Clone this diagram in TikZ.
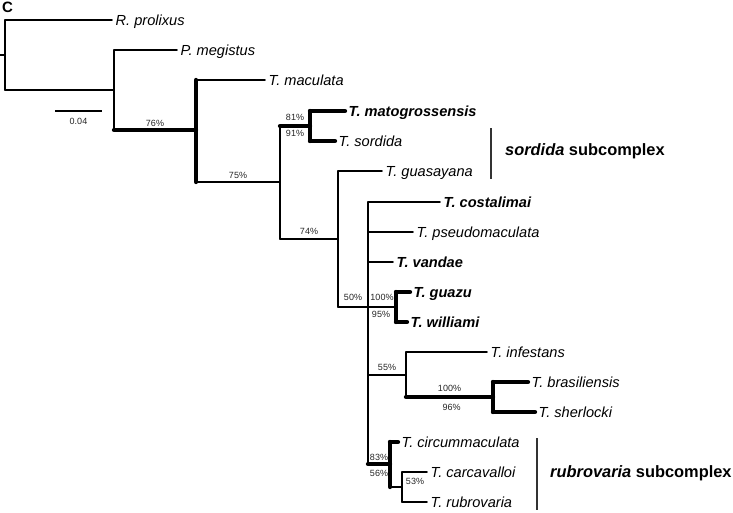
\documentclass[tikz,border=0pt]{standalone}
\usepackage{fontspec}
\setmainfont{Liberation Sans}
\begin{document}
\begin{tikzpicture}[x=1pt,y=-1pt,
  thinb/.style={line width=1.6pt, line cap=round},
  thickb/.style={line width=4.3pt, line cap=round},
  taxon/.style={anchor=west, inner xsep=3.5pt, inner ysep=0pt, text height=10.5pt, text depth=0pt,
    font=\fontsize{14.6}{16}\selectfont\itshape},
  btaxon/.style={taxon, font=\fontsize{14.6}{16}\selectfont\bfseries\itshape},
  pct/.style={font=\fontsize{9}{10}\selectfont, text=black!85, inner sep=0pt},
  grp/.style={anchor=west, inner sep=0pt, font=\fontsize{16.4}{18}\selectfont\bfseries},
  barline/.style={line width=1.3pt, black!80}]
\useasboundingbox (0,0) rectangle (733,512);
\node[anchor=north west, inner sep=0pt, font=\fontsize{15}{16}\selectfont\bfseries] (lab) at (2,2) {C};
% internal nodes
\coordinate (rt) at (0,55);
\coordinate (root) at (5,55);
\coordinate (nPM) at (114,90);
\coordinate (n76) at (196,130);
\coordinate (n75) at (280,182);
\coordinate (n81) at (310,126);
\coordinate (n74) at (338,239);
\coordinate (n50) at (368,307);
\coordinate (nGW) at (396,307);
\coordinate (n55) at (406,375);
\coordinate (nBS) at (493,397);
\coordinate (nRub) at (390,464);
\coordinate (n53) at (402,487);
% taxa
\node[taxon] (prol) at (112,20) {R. prolixus};
\node[taxon] (meg) at (177,50) {P. megistus};
\node[taxon] (mac) at (265,80) {T. maculata};
\node[btaxon] (mato) at (345,111) {T. matogrossensis};
\node[taxon] (sord) at (335,141) {T. sordida};
\node[taxon] (guas) at (382,171) {T. guasayana};
\node[btaxon] (cost) at (440,202) {T. costalimai};
\node[taxon] (pseu) at (413,232) {T. pseudomaculata};
\node[btaxon] (vand) at (393,262) {T. vandae};
\node[btaxon] (guaz) at (410,292) {T. guazu};
\node[btaxon] (will) at (407,322) {T. williami};
\node[taxon] (infe) at (487,352) {T. infestans};
\node[taxon] (bras) at (528,382) {T. brasiliensis};
\node[taxon] (sher) at (535,412) {T. sherlocki};
\node[taxon] (circ) at (398,442) {T. circummaculata};
\node[taxon] (carc) at (427,472) {T. carcavalloi};
\node[taxon] (rubr) at (427,502) {T. rubrovaria};
% root
\draw[thinb] (rt) -- (root);
\draw[thinb] (root |- prol.west) -- (root |- nPM);
\draw[thinb] (root |- prol.west) -- (prol.west);
\draw[thinb] (root |- nPM) -- (nPM);
% nPM
\draw[thinb] (nPM |- meg.west) -- (nPM |- n76);
\draw[thinb] (nPM |- meg.west) -- (meg.west);
\draw[thickb] (nPM |- n76) -- (n76) node[pct, midway, yshift=7pt] {76\%};
% n76
\draw[thickb] (n76 |- mac.west) -- (n76 |- n75);
\draw[thinb] (n76 |- mac.west) -- (mac.west);
\draw[thinb] (n76 |- n75) -- (n75) node[pct, midway, yshift=7pt] {75\%};
% n75
\draw[thinb] (n75 |- n81) -- (n75 |- n74);
\draw[thickb] (n75 |- n81) -- (n81) node[pct, midway, yshift=9pt] {81\%} node[pct, midway, yshift=-7pt] {91\%};
\draw[thinb] (n75 |- n74) -- (n74) node[pct, midway, yshift=8pt] {74\%};
% n81
\draw[thickb] (n81 |- mato.west) -- (n81 |- sord.west);
\draw[thickb] (n81 |- mato.west) -- (mato.west);
\draw[thickb] (n81 |- sord.west) -- (sord.west);
% n74
\draw[thinb] (n74 |- guas.west) -- (n74 |- n50);
\draw[thinb] (n74 |- guas.west) -- (guas.west);
\draw[thinb] (n74 |- n50) -- (n50) node[pct, midway, yshift=10pt] {50\%};
% n50
\draw[thinb] (n50 |- cost.west) -- (n50 |- nRub);
\draw[thinb] (n50 |- cost.west) -- (cost.west);
\draw[thinb] (n50 |- pseu.west) -- (pseu.west);
\draw[thinb] (n50 |- vand.west) -- (vand.west);
\draw[thinb] (n50) -- (nGW) node[pct, midway, yshift=10pt] {100\%} node[pct, midway, yshift=-7pt, xshift=-1pt] {95\%};
\draw[thinb] (n50 |- n55) -- (n55) node[pct, midway, yshift=8pt] {55\%};
\draw[thickb] (n50 |- nRub) -- (nRub) node[pct, midway, yshift=7pt] {83\%} node[pct, midway, yshift=-9pt] {56\%};
% nGW
\draw[thickb] (nGW |- guaz.west) -- (nGW |- will.west);
\draw[thickb] (nGW |- guaz.west) -- (guaz.west);
\draw[thickb] (nGW |- will.west) -- (will.west);
% n55
\draw[thinb] (n55 |- infe.west) -- (n55 |- nBS);
\draw[thinb] (n55 |- infe.west) -- (infe.west);
\draw[thickb] (n55 |- nBS) -- (nBS) node[pct, midway, yshift=9pt] {100\%} node[pct, midway, yshift=-10pt, xshift=2pt] {96\%};
% nBS
\draw[thickb] (nBS |- bras.west) -- (nBS |- sher.west);
\draw[thickb] (nBS |- bras.west) -- (bras.west);
\draw[thickb] (nBS |- sher.west) -- (sher.west);
% nRub
\draw[thickb] (nRub |- circ.west) -- (nRub |- n53);
\draw[thickb] (nRub |- circ.west) -- (circ.west);
\draw[thinb] (nRub |- n53) -- (n53);
% n53
\draw[thinb] (n53 |- carc.west) -- (n53 |- rubr.west);
\draw[thinb] (n53 |- carc.west) -- (carc.west);
\draw[thinb] (n53 |- rubr.west) -- (rubr.west);
\node[pct, xshift=13pt, yshift=6pt] (p53) at (n53) {53\%};
% scale bar
\coordinate (sb1) at (55,111);
\coordinate (sb2) at (102,111);
\draw[line width=2pt] (sb1) -- (sb2) node[pct, midway, yshift=-10pt] (sbl) {0.04};
% subcomplex bars
\coordinate (sa) at (491,128);
\coordinate (sb) at (491,179);
\draw[barline] (sa) -- (sb);
\node[grp] (sordg) at (505,151) {\textit{sordida} subcomplex};
\coordinate (ra) at (537,438);
\coordinate (rb) at (537,510);
\draw[barline] (ra) -- (rb);
\node[grp] (rubg) at (550,473) {\textit{rubrovaria} subcomplex};
\end{tikzpicture}
\end{document}
